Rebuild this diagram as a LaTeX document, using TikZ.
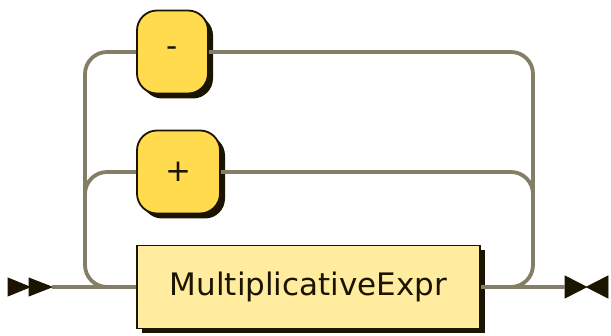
\documentclass[tikz,border=0pt]{standalone}
\usepackage{fontspec}
\setmainfont{DejaVu Sans}
\usetikzlibrary{shadows}
\definecolor{railgray}{RGB}{132,126,102}
\definecolor{termfill}{RGB}{255,219,77}
\definecolor{ntermfill}{RGB}{255,236,158}
\definecolor{inkdark}{RGB}{26,20,0}
\tikzset{
	rail/.style={line width=3.8pt,draw=railgray},
	boxbase/.style={draw=inkdark,line width=1.8pt,text=inkdark,inner sep=0pt,
		minimum height=83pt,font=\fontsize{31}{34}\selectfont,
		drop shadow={shadow xshift=5pt,shadow yshift=-5pt,fill=inkdark,opacity=1}},
	terminal/.style={boxbase,fill=termfill,rounded corners=20pt},
	nonterminal/.style={boxbase,fill=ntermfill},
	marker/.style={fill=inkdark,draw=inkdark,line width=0.8pt,line join=miter}
}
\begin{document}
\begin{tikzpicture}[x=1pt,y=-1pt]
		\useasboundingbox (0,0) rectangle (611,336);
		
		\node[terminal,minimum width=71pt] (minus) at (172.5,52) {-};
		\node[terminal,minimum width=83pt] (plus) at (178.5,172) {+};
		\node[nonterminal,minimum width=343pt] (mexpr) at (308.5,287) {MultiplicativeExpr};
		
		\coordinate (start) at (52,287);
		\coordinate (end) at (565,287);
		\coordinate (lsplit) at (108,287);
		\coordinate (rjoin) at (511,287);
		
		% start and end markers
		\filldraw[marker] (8,278) -- (30,287) -- (8,296) -- cycle;
		\filldraw[marker] (29,278) -- (start) -- (29,296) -- cycle;
		\filldraw[marker] (565,276) -- (608,298) -- (608,276) -- (565,298) -- cycle;
		
		\draw[rail] (start) -- (mexpr.west);
		\draw[rail] (mexpr.east) -- (end);
		
		% left branches
		\draw[rail,rounded corners=22pt] (lsplit) -- (85,287) |- (minus.west);
		\draw[rail,rounded corners=22pt] (85,215) |- (plus.west);
		
		% right branches
		\draw[rail,rounded corners=22pt] (minus.east) -| (533,287) -- (rjoin);
		\draw[rail,rounded corners=22pt] (plus.east) -| (533,215);
	\end{tikzpicture}
\end{document}
